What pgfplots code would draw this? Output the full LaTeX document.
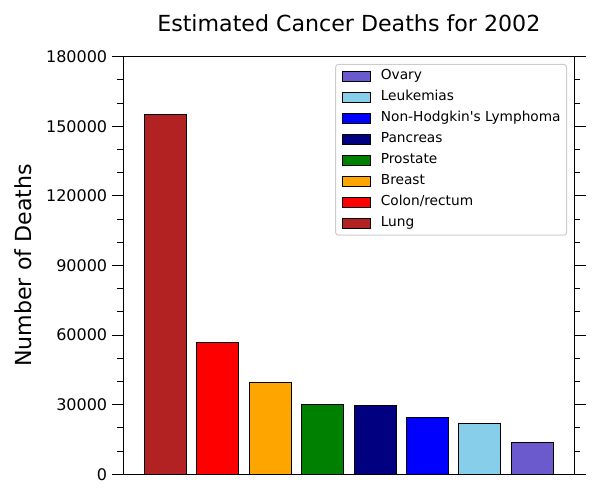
\documentclass[border=0pt]{standalone}
\usepackage{pgfplots}
\pgfplotsset{compat=1.18}
\usepackage{fontspec}
\setmainfont{DejaVu Sans}[Ligatures=TeXOff]
\definecolor{firebrick}{RGB}{178,34,34}
\definecolor{mplorange}{RGB}{255,165,0}
\definecolor{mplgreen}{RGB}{0,128,0}
\definecolor{navy}{RGB}{0,0,128}
\definecolor{mplblue}{RGB}{0,0,255}
\definecolor{mplred}{RGB}{255,0,0}
\definecolor{skyblue}{RGB}{135,206,235}
\definecolor{slateblue}{RGB}{106,90,205}
\definecolor{legendgray}{RGB}{204,204,204}
\pgfplotsset{
  mybar/.style={ybar, bar width=0.8, bar shift=0pt, draw=black, line width=0.75pt,
    legend image code/.code={\draw[##1, sharp corners, line width=0.75pt] (0pt,-3.75pt) rectangle (21pt,3.75pt);}},
}
\begin{document}
\begin{tikzpicture}
\useasboundingbox (0,0) rectangle (450pt,375pt);
\begin{axis}[
  at={(92.5pt,19.3pt)}, anchor=south west,
  scale only axis, width=338.25pt, height=313.2pt,
  xmin=-0.8, xmax=7.8, ymin=0, ymax=180000,
  xtick=\empty,
  ytick={0,30000,60000,90000,120000,150000,180000},
  minor ytick={10000,20000,40000,50000,70000,80000,100000,110000,130000,140000,160000,170000},
  ytick pos=both, yticklabel pos=left, tick align=outside,
  major tick length=8.6pt, minor tick length=4.5pt,
  every tick/.style={black, line width=0.75pt},
  axis line style={line width=0.75pt},
  scaled y ticks=false,
  /pgf/number format/assume math mode=true,
  yticklabel style={/pgf/number format/1000 sep={}, /pgf/number format/fixed, font=\fontsize{12}{14}\selectfont},
  every axis title shift=0pt,
  title={Estimated Cancer Deaths for 2002},
  title style={at={(axis description cs:0.5,1.0599)}, anchor=base, yshift=0pt, font=\fontsize{16.6}{20}\selectfont},
  ylabel={Number of Deaths},
  ylabel style={at={(axis description cs:-0.2047,0.5)}, anchor=base, font=\fontsize{16.6}{20}\selectfont},
  reverse legend,
  legend cell align=left,
  legend style={at={(axis description cs:0.984,0.9825)}, anchor=north east,
    draw=legendgray, line width=0.75pt, rounded corners=2pt, fill=white,
    inner xsep=4.5pt, inner ysep=4pt,
    font=\fontsize{10.3}{12}\selectfont,
    row sep=5.95pt, column sep=7.6pt,
    nodes={inner sep=0pt, text height=7.6pt, text depth=2.2pt}},
]
\addplot[mybar, fill=firebrick] coordinates {(0,154900)};
\addlegendentry{Lung}
\addplot[mybar, fill=mplred] coordinates {(1,56600)};
\addlegendentry{Colon/rectum}
\addplot[mybar, fill=mplorange] coordinates {(2,39600)};
\addlegendentry{Breast}
\addplot[mybar, fill=mplgreen] coordinates {(3,30200)};
\addlegendentry{Prostate}
\addplot[mybar, fill=navy] coordinates {(4,29700)};
\addlegendentry{Pancreas}
\addplot[mybar, fill=mplblue] coordinates {(5,24400)};
\addlegendentry{Non-Hodgkin's Lymphoma}
\addplot[mybar, fill=skyblue] coordinates {(6,21700)};
\addlegendentry{Leukemias}
\addplot[mybar, fill=slateblue] coordinates {(7,13900)};
\addlegendentry{Ovary}
\end{axis}
\end{tikzpicture}
\end{document}
